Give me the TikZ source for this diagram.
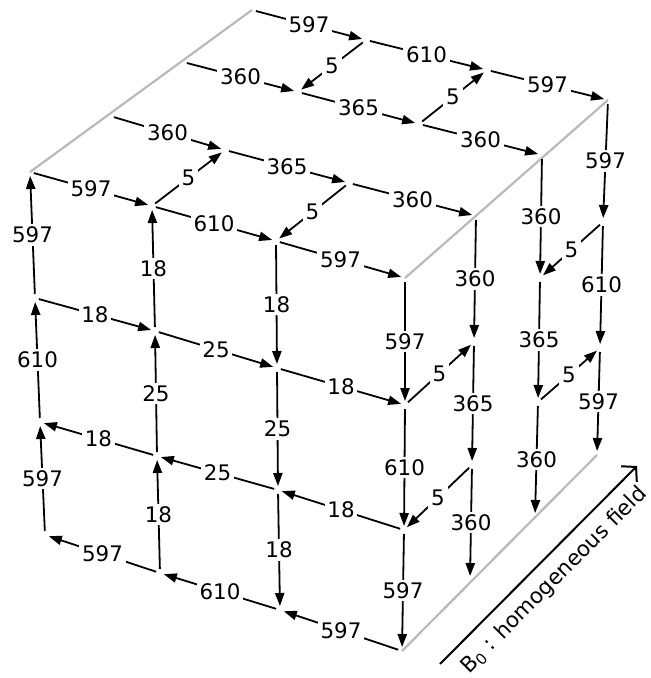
\documentclass[tikz,border=0pt]{standalone}
\usepackage{fontspec}
\setmainfont{DejaVu Sans}
\usetikzlibrary{arrows.meta}

\begin{document}
\begin{tikzpicture}[x=0.5pt, y=-0.5pt,
    seg/.style={-{Triangle[length=6.5pt,width=4.6pt]}, line width=0.9pt, shorten <=2pt, shorten >=2pt},
    num/.style={fill=white, inner sep=1.4pt, font=\fontsize{10.7}{12}\selectfont},
    rim/.style={gray!55, line width=1.1pt},
    field/.style={-{Straight Barb[length=5pt,width=11pt]}, line width=1pt}
]
\useasboundingbox (0,0) rectangle (650,678);

% top face
\coordinate (t03) at (252,10);  \coordinate (t13) at (366,40);  \coordinate (t23) at (487,70);  \coordinate (t33) at (608,100);
\coordinate (t02) at (183,62);  \coordinate (t12) at (298,92);  \coordinate (t22) at (419,124); \coordinate (t32) at (542,155);
\coordinate (t01) at (110,116); \coordinate (t11) at (225,150); \coordinate (t21) at (349,183); \coordinate (t31) at (476,216);
\coordinate (t00) at (30,172);  \coordinate (t10) at (152,206); \coordinate (t20) at (276,241); \coordinate (t30) at (405,278);
% left face
\coordinate (l01) at (35,298);  \coordinate (l11) at (155,331); \coordinate (l21) at (277,368); \coordinate (l31) at (405,405);
\coordinate (l02) at (40,422);  \coordinate (l12) at (157,456); \coordinate (l22) at (278,490); \coordinate (l32) at (404,530);
\coordinate (l03) at (45,535);  \coordinate (l13) at (160,573); \coordinate (l23) at (280,610); \coordinate (l33) at (402,651);
% right face
\coordinate (r11) at (474,342); \coordinate (r21) at (540,278); \coordinate (r31) at (603,222);
\coordinate (r12) at (472,465); \coordinate (r22) at (538,402); \coordinate (r32) at (600,348);
\coordinate (r13) at (470,580); \coordinate (r23) at (535,517); \coordinate (r33) at (597,455);

\draw[rim] (t03) -- (t00);
\draw[rim] (t33) -- (t30);
\draw[rim] (l33) -- (r33);

\foreach \a/\b/\n in {t03/t13/597, t13/t23/610, t23/t33/597,
                      t02/t12/360, t12/t22/365, t22/t32/360,
                      t01/t11/360, t11/t21/365, t21/t31/360,
                      t00/t10/597, t10/t20/610, t20/t30/597,
                      t10/t11/5, t21/t20/5, t13/t12/5, t22/t23/5}
  \draw[seg] (\a) -- node[num] {\n} (\b);

\foreach \a/\b/\n in {t30/l31/597, l31/l32/610, l32/l33/597,
                      t31/r11/360, r11/r12/365, r12/r13/360,
                      t32/r21/360, r21/r22/365, r22/r23/360,
                      t33/r31/597, r31/r32/610, r32/r33/597,
                      l31/r11/5, r12/l32/5, r31/r21/5, r22/r32/5}
  \draw[seg] (\a) -- node[num] {\n} (\b);

\foreach \a/\b/\n in {l03/l02/597, l02/l01/610, l01/t00/597,
                      l13/l12/18, l12/l11/25, l11/t10/18,
                      t20/l21/18, l21/l22/25, l22/l23/18,
                      l01/l11/18, l11/l21/25, l21/l31/18,
                      l32/l22/18, l22/l12/25, l12/l02/18,
                      l33/l23/597, l23/l13/610, l13/l03/597}
  \draw[seg] (\a) -- node[num] {\n} (\b);

\coordinate (b0) at (440,664);
\coordinate (b1) at (637,466);
\draw[field] (b0) -- node[sloped, below=2pt, font=\fontsize{10.7}{12}\selectfont] {B\textsubscript{0} : homogeneous field} (b1);
\end{tikzpicture}
\end{document}
